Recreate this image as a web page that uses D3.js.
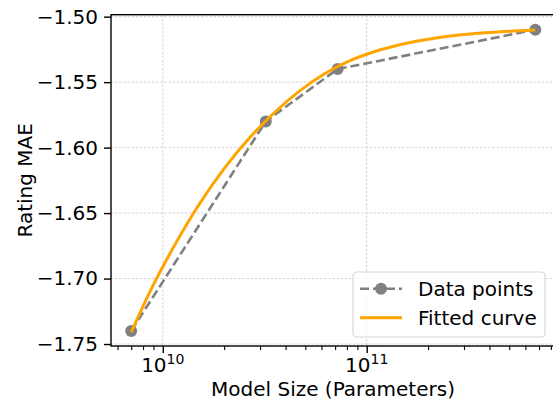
<!DOCTYPE html>
<html>
<head>
<meta charset="utf-8">
<script src="https://cdn.jsdelivr.net/npm/d3@7"></script>
<style>
  body { margin: 0; background: #fff; overflow: hidden; }
  text { font-family: "DejaVu Sans", sans-serif; fill: #000; }
</style>
</head>
<body>
<div id="chart"></div>
<script>
// model size vs rating MAE

var sizes = [7e9, 3.2e10, 7.2e10, 6.71e11];
var mae = [-1.74, -1.58, -1.54, -1.51];

// fitted curve
var fitX = [7.0e9, 8.666e9, 1.149e10, 1.523e10, 2.020e10, 2.679e10, 3.552e10, 4.710e10, 6.247e10,
            8.282e10, 1.098e11, 1.456e11, 1.931e11, 2.561e11, 3.396e11, 4.502e11, 6.71e11];
var fitY = [-1.741, -1.7098, -1.6739, -1.6423, -1.6151, -1.5921, -1.5728, -1.5565, -1.5434,
            -1.5336, -1.5266, -1.5215, -1.5177, -1.5148, -1.5129, -1.5116, -1.5102];

var yTicks = [-1.75, -1.70, -1.65, -1.60, -1.55, -1.50];
var xTicks = [1e10, 1e11];
var legendLabels = ["Data points", "Fitted curve"];

var width = 553, height = 403;
var pLeft = 111, pRight = 555.5, pTop = 14.7, pBottom = 346;

var svg = d3.select("#chart").append("svg")
	.attr("width", width)
	.attr("height", height);

// 5% margins like matplotlib, in log space for x
var lx = d3.extent(sizes, function(d) { return Math.log10(d); });
var padX = (lx[1] - lx[0]) * 0.05;
var ey = d3.extent(mae);
var padY = (ey[1] - ey[0]) * 0.05;

var x = d3.scaleLog()
	.domain([Math.pow(10, lx[0] - padX), Math.pow(10, lx[1] + padX)])
	.range([pLeft, pRight]);
var y = d3.scaleLinear()
	.domain([ey[0] - padY, ey[1] + padY])
	.range([pBottom, pTop]);

// grid
var grid = svg.append("g")
	.attr("stroke", "#cfcfcf")
	.attr("stroke-width", 0.9)
	.attr("stroke-dasharray", "2.5,1.6");
grid.selectAll(".gy").data(yTicks).enter().append("line")
	.attr("x1", pLeft).attr("x2", pRight)
	.attr("y1", function(d) { return y(d); })
	.attr("y2", function(d) { return y(d); });
grid.selectAll(".gx").data(xTicks).enter().append("line")
	.attr("y1", pTop).attr("y2", pBottom)
	.attr("x1", function(d) { return x(d); })
	.attr("x2", function(d) { return x(d); });

// axes
var fmt = d3.format(".2f");
var yAxis = svg.append("g")
	.attr("transform", "translate(" + pLeft + ",0)")
	.call(d3.axisLeft(y).tickValues(yTicks).tickFormat(fmt).tickSize(7).tickPadding(6));
yAxis.select(".domain").remove();
yAxis.selectAll("text").attr("font-size", "20px").attr("font-family", "DejaVu Sans");
yAxis.selectAll("line").attr("stroke-width", 1.4);

var minor = [];
[1e9, 1e10, 1e11].forEach(function(dec) {
	for (var k = 2; k <= 9; k++) {
		var v = k * dec;
		if (v > x.domain()[0] && v < x.domain()[1]) minor.push(v);
	}
});

var xAxis = svg.append("g")
	.attr("transform", "translate(0," + pBottom + ")")
	.call(d3.axisBottom(x).tickValues(xTicks).tickFormat("").tickSize(7));
xAxis.select(".domain").remove();
xAxis.selectAll("line").attr("stroke-width", 1.4);

var xMinor = svg.append("g")
	.attr("transform", "translate(0," + pBottom + ")")
	.call(d3.axisBottom(x).tickValues(minor).tickFormat("").tickSize(4));
xMinor.select(".domain").remove();
xMinor.selectAll("line").attr("stroke-width", 1.1);

// power-of-ten labels
var xl = svg.append("g").selectAll("text").data(xTicks).enter().append("text")
	.attr("x", function(d) { return x(d); })
	.attr("y", 372)
	.attr("text-anchor", "middle")
	.attr("font-size", "20px");
xl.append("tspan").text("10");
xl.append("tspan")
	.attr("font-size", "14px")
	.attr("dy", -8.5)
	.text(function(d) { return Math.round(Math.log10(d)); });

// frame
svg.append("rect")
	.attr("x", pLeft).attr("y", pTop)
	.attr("width", pRight - pLeft).attr("height", pBottom - pTop)
	.attr("fill", "none")
	.attr("stroke", "#000")
	.attr("stroke-width", 1.4);

// data line
var line = d3.line()
	.x(function(d, i) { return x(sizes[i]); })
	.y(function(d) { return y(d); });

svg.append("path")
	.datum(mae)
	.attr("d", line)
	.attr("fill", "none")
	.attr("stroke", "gray")
	.attr("stroke-width", 2.6)
	.attr("stroke-dasharray", "9,4");

svg.append("g").selectAll("circle").data(mae).enter().append("circle")
	.attr("cx", function(d, i) { return x(sizes[i]); })
	.attr("cy", function(d) { return y(d); })
	.attr("r", 6)
	.attr("fill", "gray");

// fitted curve
var fitLine = d3.line()
	.x(function(d, i) { return x(fitX[i]); })
	.y(function(d) { return y(d); })
	.curve(d3.curveMonotoneX);

svg.append("path")
	.datum(fitY)
	.attr("d", fitLine)
	.attr("fill", "none")
	.attr("stroke", "orange")
	.attr("stroke-width", 3);

// labels
svg.append("text")
	.attr("x", 333)
	.attr("y", 396)
	.attr("text-anchor", "middle")
	.attr("font-size", "20px")
	.text("Model Size (Parameters)");

svg.append("text")
	.attr("transform", "translate(32," + (pTop + pBottom) / 2 + ") rotate(-90)")
	.attr("text-anchor", "middle")
	.attr("font-size", "20px")
	.text("Rating MAE");

// legend
var lg = svg.append("g");
lg.append("rect")
	.attr("x", 353).attr("y", 272)
	.attr("width", 192).attr("height", 65)
	.attr("rx", 4)
	.attr("fill", "#fff").attr("fill-opacity", 0.8)
	.attr("stroke", "#d6d6d6").attr("stroke-width", 1.2);

var rowY = [288.7, 317.7];
lg.append("line")
	.attr("x1", 360).attr("x2", 402)
	.attr("y1", rowY[0]).attr("y2", rowY[0])
	.attr("stroke", "gray").attr("stroke-width", 2.6)
	.attr("stroke-dasharray", "9,4");
lg.append("circle")
	.attr("cx", 381).attr("cy", rowY[0]).attr("r", 6).attr("fill", "gray");
lg.append("line")
	.attr("x1", 360).attr("x2", 402)
	.attr("y1", rowY[1]).attr("y2", rowY[1])
	.attr("stroke", "orange").attr("stroke-width", 3);

lg.selectAll(".lt").data(legendLabels).enter().append("text")
	.attr("x", 418)
	.attr("y", function(d, i) { return rowY[i]; })
	.attr("dy", "0.36em")
	.attr("font-size", "20px")
	.text(function(d) { return d; });
</script>
</body>
</html>
